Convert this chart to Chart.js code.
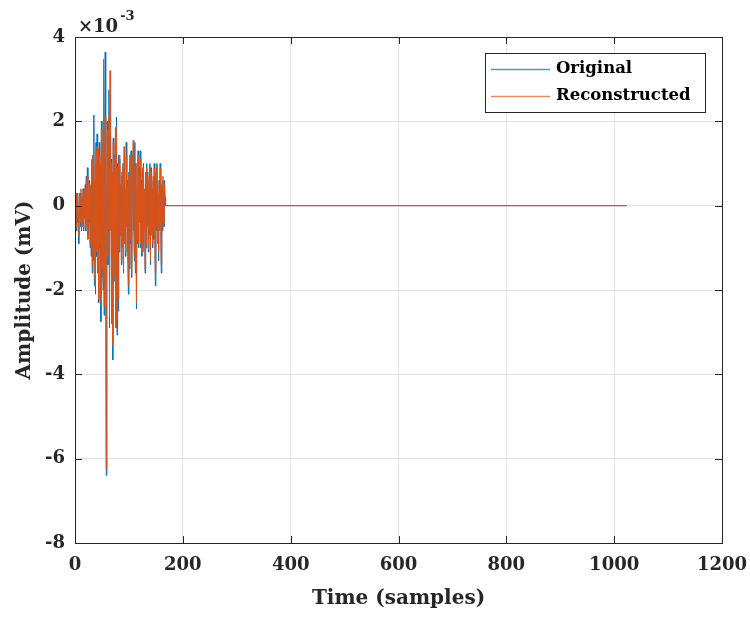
<!DOCTYPE html>
<html>
<head>
<meta charset="utf-8">
<script src="https://cdn.jsdelivr.net/npm/chart.js@4/dist/chart.umd.min.js"></script>
<style>
html,body{margin:0;padding:0;background:#fff;}
#wrap{width:750px;height:617px;position:relative;}
</style>
</head>
<body>
<div id="wrap"><canvas id="c" width="750" height="617"></canvas></div>
<script>
// Amplitude values in units of 1e-3 mV, one per sample (sample index = array position)
const original = [
 0, -0.3, -0.6, 0.2, -0.4, 0.3, -0.5, -0.9, -0.1, 0.3,
 -0.5, 0.3, -0.6, 0.2, -0.4, 0.4, -0.6, 0.3, -0.2, 0.5,
 -0.6, 0.7, -0.3, 0.9, -0.7, 0.2, -0.4, 0.6, -1.0, 0.4,
 -1.2, 1.0, -1.6, 1.2, -1.3, 2.15, -1.9, 0.5, -2.1, 1.5,
 -1.2, 1.7, -1.5, 0.8, -2.3, 1.5, -1.0, 0.9, -2.75, 2.0,
 -1.7, 1.3, -2.0, 3.3, -2.6, 1.2, 3.64, -0.8, -6.4, 0.1,
 2.0, -1.4, 0.9, 2.74, -2.9, 1.6, -0.4, 1.1, -2.8, 0.7,
 -3.66, 1.6, -1.8, 1.2, -1.2, 0.9, -2.9, 2.1, -3.07, 1.0,
 -2.5, 1.2, -1.1, 1.1, -0.6, 0.4, -1.4, 0.7, -0.9, 1.0,
 -1.6, 0.5, -0.8, 0.3, -1.2, 1.5, -0.4, 0.6, -1.0, -2.1,
 0.8, -1.5, 1.2, -0.9, 1.3, -1.7, 0.3, 1.2, -0.6, 1.5,
 -1.3, 1.5, -1.6, 1.0, -2.45, 0.4, -0.9, 1.3, -1.0, 0.9,
 -0.3, 1.3, -1.0, 0.6, -1.2, 0.8, -1.0, 1.0, -0.5, 0.3,
 -1.6, 0.7, -1.0, 1.0, -0.4, 0.8, -1.1, 0.5, -0.7, 1.0,
 -1.4, 0.9, -0.6, 0.3, -1.0, 0.6, -0.8, 1.0, -0.5, -1.9,
 0.7, -0.6, 1.0, -0.8, 0.2, -1.3, 0.6, -0.5, 1.0, -0.3,
 -1.6, 0.4, -0.6, 0.6, 0.1, -0.5, 0.6, 0.2, 0, 0
];
const reconstructed = [
 0, -0.2, -0.5, 0.3, -0.3, 0.2, -0.6, -0.7, 0.0, 0.2,
 -0.4, 0.4, -0.5, 0.1, -0.5, 0.3, -0.5, 0.4, -0.3, 0.4,
 -0.5, 0.6, -0.4, 0.7, -0.8, 0.3, -0.3, 0.5, -0.9, 0.5,
 -1.0, 1.1, -1.4, 1.2, -1.2, 1.0, -1.7, 0.6, -1.9, 1.3,
 -1.1, 1.4, -1.6, 1.35, -2.2, 1.2, -0.9, 1.0, -2.3, 1.8,
 -1.5, 1.4, -1.8, 3.48, -2.4, 1.1, 2.1, -0.7, -6.25, 0.3,
 1.8, -1.2, 1.0, 2.1, -2.6, 3.2, -0.6, 1.0, -2.8, 0.8,
 -3.3, 1.5, -1.7, 1.1, -1.3, 1.85, -2.9, 1.7, -2.7, 0.9,
 -2.2, 1.0, -1.0, 1.2, -0.7, 0.5, -1.3, 0.8, -1.0, 0.9,
 -1.5, 1.4, -0.9, 0.4, -1.1, 1.2, -0.5, 0.5, -1.1, -1.9,
 0.7, -1.4, 1.1, -0.8, 1.2, -1.6, 0.4, 1.1, 1.55, -0.5,
 -1.2, 0.9, -1.5, 1.0, -2.3, 0.5, -0.8, 1.2, -0.9, 0.7,
 -0.4, 1.1, -0.9, 0.5, -1.1, 0.9, -1.1, 0.9, -0.6, 0.4,
 -1.5, 0.8, -0.9, 0.9, -0.5, 0.7, -1.0, 0.6, -0.6, 0.9,
 -1.3, 0.8, -0.7, 0.4, -0.9, 0.7, -0.7, 0.9, -0.6, -1.6,
 0.8, -0.5, 0.9, -0.9, 0.3, -1.1, 0.5, -0.6, 0.9, -0.4,
 -1.4, 0.5, -0.5, 0.7, 0.0, -0.4, 0.5, 0.1, 0, 0
];
// after the active part the signal stays at zero up to the last sample
const lastSample = 1023;
const lastValue = 0;

const xTicks = [0, 200, 400, 600, 800, 1000, 1200];
const yTicks = [4, 2, 0, -2, -4, -6, -8];
const seriesNames = ['Original', 'Reconstructed'];
const seriesColors = ['#0072BD', '#D95319'];

function toPoints(arr) {
  const pts = arr.map((v, i) => ({x: i, y: v}));
  pts.push({x: lastSample, y: lastValue});
  return pts;
}

const FONT = 'DejaVu Serif';
const AX = '#262626';

const decor = {
  id: 'decor',
  afterDatasetsDraw(chart) {
    const {ctx, chartArea: a, scales: {x, y}} = chart;
    ctx.save();
    ctx.strokeStyle = AX;
    ctx.lineWidth = 1;
    // inner tick marks
    ctx.beginPath();
    xTicks.forEach(t => {
      const px = Math.round(x.getPixelForValue(t)) + 0.5;
      ctx.moveTo(px, a.bottom); ctx.lineTo(px, a.bottom - 7);
      ctx.moveTo(px, a.top); ctx.lineTo(px, a.top + 7);
    });
    yTicks.forEach(t => {
      const py = Math.round(y.getPixelForValue(t)) + 0.5;
      ctx.moveTo(a.left, py); ctx.lineTo(a.left + 7, py);
      ctx.moveTo(a.right, py); ctx.lineTo(a.right - 7, py);
    });
    ctx.stroke();
    // box
    ctx.strokeRect(Math.round(a.left) + 0.5, Math.round(a.top) + 0.5,
      Math.round(a.right - a.left), Math.round(a.bottom - a.top));
    // exponent label
    ctx.fillStyle = AX;
    ctx.textBaseline = 'alphabetic';
    ctx.textAlign = 'left';
    ctx.font = 'bold 18px "' + FONT + '"';
    ctx.fillText('\u00d710', a.left + 3, a.top - 5);
    const w = ctx.measureText('\u00d710').width;
    ctx.font = 'bold 13px "' + FONT + '"';
    ctx.fillText('-3', a.left + 3 + w + 2, a.top - 17);
    // legend
    const lx = 485, ly = 53, lw = 220, lh = 59;
    ctx.fillStyle = '#ffffff';
    ctx.fillRect(lx, ly, lw, lh);
    ctx.strokeStyle = AX;
    ctx.strokeRect(lx + 0.5, ly + 0.5, lw, lh);
    ctx.font = 'bold 16.5px "' + FONT + '"';
    ctx.textBaseline = 'middle';
    const rows = [69, 96];
    const legendColors = ['#4a9bd0', '#e68a62'];
    seriesNames.forEach((n, i) => {
      ctx.strokeStyle = legendColors[i];
      ctx.lineWidth = 1.5;
      ctx.beginPath();
      ctx.moveTo(491, rows[i] + 0.5); ctx.lineTo(550, rows[i] + 0.5);
      ctx.stroke();
      ctx.fillStyle = '#000';
      ctx.fillText(n, 556, rows[i]);
    });
    ctx.restore();
  }
};

new Chart(document.getElementById('c'), {
  type: 'line',
  data: {
    datasets: [
      {label: seriesNames[0], data: toPoints(original), borderColor: seriesColors[0],
       borderWidth: 1, pointRadius: 0, tension: 0, order: 1},
      {label: seriesNames[1], data: toPoints(reconstructed), borderColor: seriesColors[1],
       borderWidth: 1, pointRadius: 0, tension: 0, order: 0}
    ]
  },
  options: {
    responsive: false,
    animation: false,
    events: [],
    layout: {padding: {top: 37, right: 28, left: 0, bottom: 0}},
    plugins: {legend: {display: false}, tooltip: {enabled: false}},
    scales: {
      x: {
        type: 'linear', min: 0, max: 1200,
        afterFit(s) { s.height = 74; s.paddingLeft = 0; s.paddingRight = 0; },
        afterBuildTicks(s) { s.ticks = xTicks.map(v => ({value: v})); },
        grid: {color: '#e3e3e3', drawTicks: false, lineWidth: 1},
        border: {display: false},
        ticks: {color: AX, padding: 12, font: {family: FONT, weight: 'bold', size: 18}, maxRotation: 0,
                callback: v => String(v)},
        title: {display: true, text: 'Time (samples)', color: AX,
                font: {family: FONT, weight: 'bold', size: 20}, padding: {top: 0, bottom: 6}}
      },
      y: {
        type: 'linear', min: -8, max: 4,
        afterFit(s) { s.width = 75; s.paddingTop = 0; s.paddingBottom = 0; },
        afterBuildTicks(s) { s.ticks = yTicks.map(v => ({value: v})); },
        grid: {color: '#e3e3e3', drawTicks: false, lineWidth: 1},
        border: {display: false},
        ticks: {color: AX, padding: 10, font: {family: FONT, weight: 'bold', size: 18},
                callback: v => String(v)},
        title: {display: true, text: 'Amplitude (mV)', color: AX,
                font: {family: FONT, weight: 'bold', size: 20}, padding: {top: 13, bottom: 0}}
      }
    }
  },
  plugins: [decor]
});
</script>
</body>
</html>
